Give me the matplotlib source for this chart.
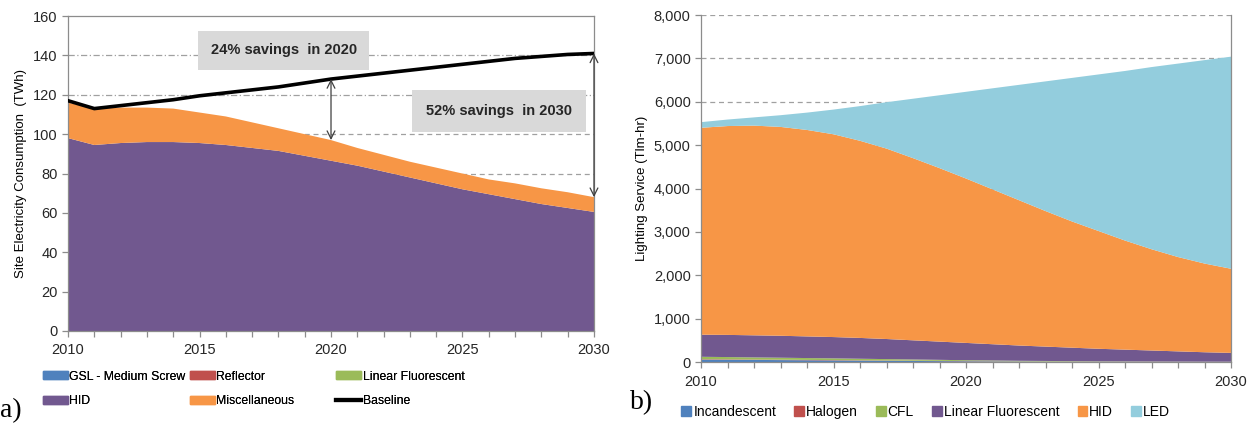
import numpy as np
import matplotlib.pyplot as plt
from matplotlib.patches import Patch
from matplotlib.lines import Line2D
from matplotlib.ticker import FuncFormatter, MultipleLocator

plt.rcParams['font.family'] = ['Liberation Sans', 'DejaVu Sans']

years = list(range(2010, 2031))

# (a) site electricity consumption, TWh
gsl_a = [0] * 21
reflector_a = [0] * 21
linfl_a = [0] * 21
hid_a = [98, 94.5, 95.5, 96, 96, 95.5, 94.5, 93, 91.5, 89, 86.5,
         84, 81, 78, 75, 72, 69.5, 67, 64.5, 62.5, 60.5]
misc_a = [18, 18.5, 18, 17.5, 17, 15.5, 14.5, 13, 11.5, 11, 10.5,
          9, 8.5, 8, 8, 8, 7.5, 8, 8, 8, 7.5]
baseline = [117, 113, 114.5, 116, 117.5, 119.5, 121, 122.5, 124, 126, 128,
            129.5, 131, 132.5, 134, 135.5, 137, 138.5, 139.5, 140.5, 141]

# (b) lighting service, Tlm-hr
incand = [55, 52, 48, 44, 40, 36, 32, 28, 24, 20, 16, 13, 10, 8, 6, 5, 4, 3, 3, 2, 2]
halogen = [10, 10, 9, 9, 8, 8, 7, 7, 6, 6, 5, 5, 4, 4, 4, 3, 3, 3, 2, 2, 2]
cfl = [55, 52, 49, 46, 43, 40, 36, 32, 28, 24, 20, 17, 14, 12, 10, 8, 7, 6, 5, 4, 3]
linfl_b = [510, 511, 509, 506, 499, 491, 480, 463, 442, 420, 399,
           375, 352, 331, 310, 289, 271, 253, 235, 217, 203]
hid_b = [4770, 4815, 4835, 4815, 4760, 4675, 4545, 4390, 4200, 4000, 3790,
         3570, 3350, 3125, 2910, 2715, 2515, 2335, 2175, 2045, 1940]
led = [130, 150, 190, 270, 400, 570, 800, 1070, 1370, 1680, 2000,
       2330, 2660, 2990, 3310, 3610, 3910, 4200, 4460, 4690, 4890]

c_blue = '#4F81BD'
c_red = '#C0504D'
c_green = '#9BBB59'
c_purple = '#71588F'
c_orange = '#F79646'
c_ltblue = '#93CDDD'
c_axis = '#8C8C8C'

fig = plt.figure(figsize=(12.55, 4.23), dpi=100)
ax1 = fig.add_axes([0.0542, 0.2175, 0.4191, 0.7445])
ax2 = fig.add_axes([0.5586, 0.1442, 0.4223, 0.8203])


def style_axes(ax):
    for s in ax.spines.values():
        s.set_color(c_axis)
        s.set_linewidth(0.9)
    ax.tick_params(axis='both', colors=c_axis, labelcolor='#262626', labelsize=10.5,
                   direction='out', length=4, width=0.9)
    ax.tick_params(axis='x', which='minor', direction='out', length=4,
                   width=0.9, colors=c_axis)
    ax.set_xlim(2010, 2030)
    ax.set_xticks([2010, 2015, 2020, 2025, 2030])
    ax.xaxis.set_minor_locator(MultipleLocator(1))
    ax.tick_params(axis='x', pad=5)


# ---- left panel ----
ax1.set_axisbelow(True)
ax1.stackplot(years, gsl_a, reflector_a, linfl_a, hid_a, misc_a,
              colors=[c_blue, c_red, c_green, c_purple, c_orange], linewidth=0)
ax1.plot(years, baseline, color='black', lw=2.6, solid_joinstyle='round', zorder=5)
ax1.set_ylim(0, 160)
ax1.set_yticks(range(0, 161, 20))
for y in [80, 100]:
    ax1.axhline(y, color='#A0A0A0', lw=0.9, ls=(0, (4, 3)), zorder=0)
for y in [120, 140]:
    ax1.axhline(y, color='#A0A0A0', lw=0.9, ls=(0, (5, 2, 1, 2)), zorder=0)
style_axes(ax1)
ax1.set_ylabel('Site Electricity Consumption  (TWh)', fontsize=9.5, labelpad=4)

total_a = [h + m for h, m in zip(hid_a, misc_a)]
for yr in [2020, 2030]:
    i = years.index(yr)
    ax1.annotate('', xy=(yr, total_a[i]), xytext=(yr, baseline[i]),
                 arrowprops=dict(arrowstyle='<->', color='#404040', lw=0.9,
                                 mutation_scale=14, shrinkA=0, shrinkB=0), zorder=6)

box = dict(boxstyle='square', fc='#D9D9D9', ec='none')
ax1.text(2018.2, 142.7, '24% savings  in 2020', ha='center', va='center',
         fontsize=10.5, fontweight='bold', color='#262626',
         bbox=dict(box, pad=0.85), zorder=7)
ax1.text(2026.4, 111.7, '52% savings  in 2030', ha='center', va='center',
         fontsize=10.5, fontweight='bold', color='#262626',
         bbox=dict(box, pad=0.95), zorder=7)

# legend of the left panel, one legend per column
cols_a = [
    [Patch(color=c_blue, label='GSL - Medium Screw'), Patch(color=c_purple, label='HID')],
    [Patch(color=c_red, label='Reflector'), Patch(color=c_orange, label='Miscellaneous')],
    [Patch(color=c_green, label='Linear Fluorescent'),
     Line2D([], [], color='black', lw=3, label='Baseline')],
]
for xpos, hs in zip([0.034, 0.151, 0.268], cols_a):
    lg = fig.legend(handles=hs, loc='upper left', bbox_to_anchor=(xpos, 0.124),
                    frameon=False, fontsize=8.8, handlelength=2.05, handleheight=0.65,
                    handletextpad=0.1, labelspacing=1.05, borderaxespad=0, borderpad=0)
    fig.add_artist(lg)

# ---- right panel ----
ax2.set_axisbelow(True)
ax2.stackplot(years, incand, halogen, cfl, linfl_b, hid_b, led,
              colors=[c_blue, c_red, c_green, c_purple, c_orange, c_ltblue], linewidth=0)
ax2.set_ylim(0, 8000)
ax2.set_yticks(range(0, 8001, 1000))
ax2.yaxis.set_major_formatter(FuncFormatter(lambda v, p: f'{int(v):,}'))
for y in range(1000, 8001, 1000):
    ax2.axhline(y, color='#A0A0A0', lw=0.9, ls=(0, (4, 3)), zorder=0)
style_axes(ax2)
ax2.spines['top'].set_visible(False)
ax2.set_ylabel('Lighting Service (Tlm-hr)', fontsize=9.5, labelpad=4)

hs_b = [Patch(color=c, label=l) for c, l in zip(
    [c_blue, c_red, c_green, c_purple, c_orange, c_ltblue],
    ['Incandescent', 'Halogen', 'CFL', 'Linear Fluorescent', 'HID', 'LED'])]
fig.legend(handles=hs_b, loc='center left', bbox_to_anchor=(0.543, 0.027), ncol=6,
           frameon=False, fontsize=10, handlelength=0.7, handleheight=0.7,
           handletextpad=0.15, columnspacing=1.3, borderaxespad=0, borderpad=0)

fig.text(0.0, 0.0, 'a)', family=['Liberation Serif'], fontsize=20, ha='left', va='bottom')
fig.text(0.502, 0.018, 'b)', family=['Liberation Serif'], fontsize=20, ha='left', va='bottom')

fig.savefig('out.png', dpi=100)
